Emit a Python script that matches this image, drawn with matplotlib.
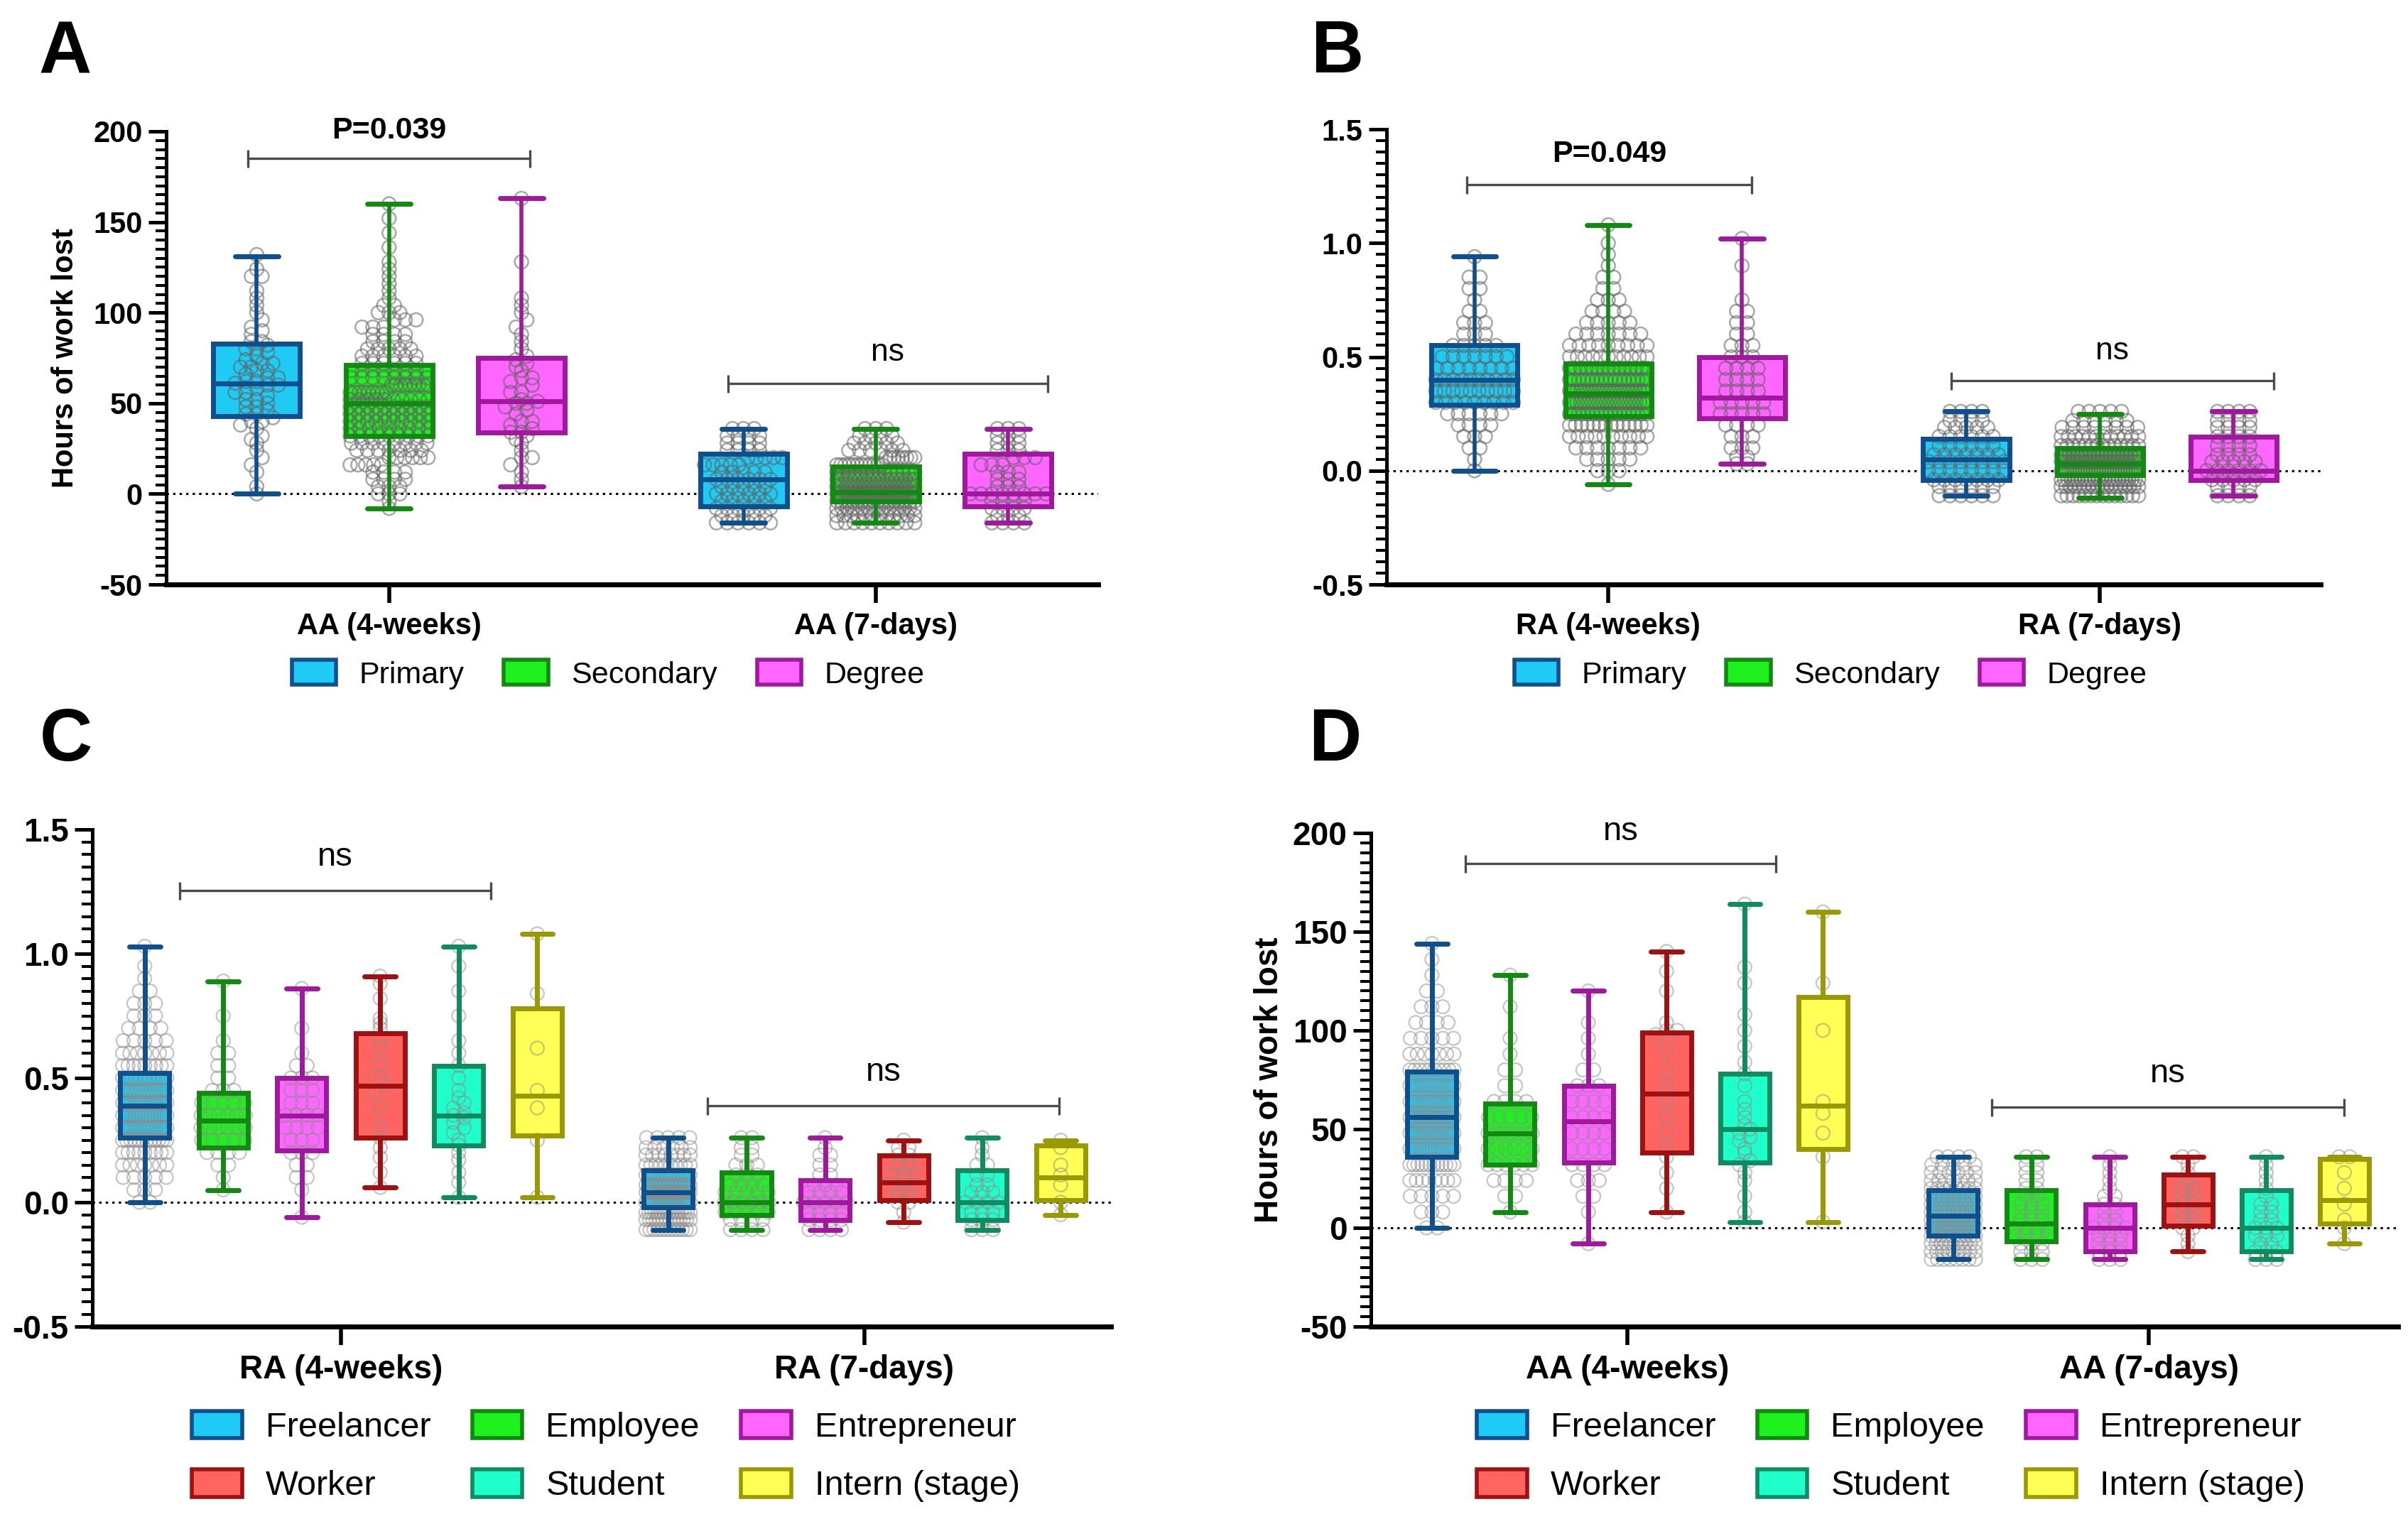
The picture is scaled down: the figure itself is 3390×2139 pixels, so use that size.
import numpy as np
import matplotlib
matplotlib.use("Agg")
import matplotlib.pyplot as plt
from matplotlib.patches import Patch
from matplotlib.ticker import MultipleLocator

plt.rcParams['font.family'] = ['Liberation Sans', 'DejaVu Sans']
plt.rcParams['axes.unicode_minus'] = False

W, H, DPI = 3391, 2139, 100

# ------------------------------------------------------------------ data
edu_groups = ["Primary", "Secondary", "Degree"]
job_groups = ["Freelancer", "Employee", "Entrepreneur", "Worker", "Student", "Intern (stage)"]
AA_periods = ["AA (4-weeks)", "AA (7-days)"]
RA_periods = ["RA (4-weeks)", "RA (7-days)"]

# box summaries: (min, Q1, median, Q3, max)
A_4w_box = [(0, 43, 61, 83, 131), (-8, 32, 50, 71, 160), (4, 34, 51, 75, 163)]
A_7d_box = [(-16, -7, 8, 22, 36), (-16, -4, 1, 15, 36), (-16, -7, 0, 22, 36)]
B_4w_box = [(0, .29, .40, .55, .94), (-.06, .24, .34, .47, 1.08), (.03, .23, .32, .50, 1.02)]
B_7d_box = [(-.11, -.04, .05, .14, .26), (-.12, -.02, .03, .10, .25), (-.11, -.04, 0.0, .15, .26)]
C_4w_box = [(0, .26, .39, .52, 1.03), (.05, .22, .33, .44, .89), (-.06, .21, .35, .50, .86),
            (.06, .26, .47, .68, .91), (.02, .23, .35, .55, 1.03), (.02, .27, .43, .78, 1.08)]
C_7d_box = [(-.11, -.02, .04, .13, .26), (-.11, -.05, 0.0, .12, .26), (-.11, -.07, 0.0, .09, .26),
            (-.08, .01, .08, .19, .25), (-.11, -.07, 0.0, .13, .26), (-.05, .01, .10, .23, .25)]
D_4w_box = [(0, 36, 56, 79, 144), (8, 32, 48, 63, 128), (-8, 33, 54, 72, 120),
            (8, 38, 68, 99, 140), (3, 33, 50, 78, 164), (3, 40, 62, 117, 160)]
D_7d_box = [(-16, -4, 6, 19, 36), (-16, -7, 2, 19, 36), (-16, -12, 0, 12, 36),
            (-12, 1, 12, 27, 36), (-16, -12, 0, 19, 36), (-8, 2, 14, 35, 36)]

# individual observations (value levels and how many points sit at each)
AA7_levels = [-16, -12, -8, -4, 0, 4, 8, 12, 16, 20, 24, 28, 32, 36]
RA7_levels = [-0.11, -0.07, -0.04, 0.0, 0.04, 0.07, 0.11, 0.15, 0.19, 0.22, 0.26]

A_4w_primary = [0, 4, 12, 16, 20, 24, 28, 30, 32, 36, 38, 40, 40, 42, 44, 44, 46, 48, 48, 50,
                52, 52, 54, 56, 56, 58, 60, 60, 61, 62, 62, 64, 64, 66, 68, 68, 70, 70, 72, 72,
                74, 76, 78, 80, 80, 82, 84, 84, 88, 90, 92, 96, 100, 104, 108, 112, 120, 120, 124, 132]
A_4w_secondary_lvls = [-8, -4, 0, 4, 8, 12, 16, 20, 24, 28, 32, 36, 40, 44, 48, 52, 56, 60, 64, 68,
                       72, 76, 80, 84, 88, 92, 96, 100, 104, 108, 112, 116, 120, 124, 128, 136, 144, 152, 160]
A_4w_secondary_cnts = [1, 1, 3, 3, 4, 4, 5, 6, 7, 8, 9, 9, 10, 10, 10, 10, 9, 9, 8, 8,
                       6, 6, 5, 4, 4, 3, 3, 3, 2, 1, 1, 1, 1, 1, 1, 1, 1, 1, 1]
A_4w_degree = [4, 8, 12, 16, 20, 20, 24, 28, 30, 32, 34, 34, 36, 38, 40, 40, 44, 46, 48, 50, 50, 51,
               52, 56, 56, 60, 62, 64, 64, 68, 70, 72, 74, 76, 80, 84, 88, 92, 96, 100, 104, 108, 128, 163]
A_7d_primary_cnts = [6, 5, 6, 5, 6, 5, 6, 5, 5, 5, 4, 4, 4, 3]
A_7d_secondary_cnts = [10, 12, 16, 20, 32, 18, 18, 14, 12, 8, 6, 5, 4, 3]
A_7d_degree_cnts = [4, 3, 4, 4, 8, 3, 3, 3, 3, 3, 3, 3, 3, 3]

B_4w_primary_lvls = [0.00, 0.05, 0.10, 0.15, 0.20, 0.25, 0.30, 0.35, 0.40, 0.45, 0.50, 0.55, 0.60,
                     0.65, 0.70, 0.75, 0.80, 0.85, 0.94]
B_4w_primary_cnts = [1, 1, 2, 3, 4, 6, 9, 10, 10, 8, 7, 5, 3, 3, 2, 1, 2, 2, 1]
B_4w_secondary_lvls = [-0.06, 0.00, 0.05, 0.10, 0.15, 0.20, 0.25, 0.30, 0.35, 0.40, 0.45, 0.50, 0.55,
                       0.60, 0.65, 0.70, 0.75, 0.80, 0.85, 0.90, 0.95, 1.00, 1.08]
B_4w_secondary_cnts = [1, 3, 5, 7, 10, 14, 18, 22, 22, 18, 15, 11, 9, 7, 5, 4, 3, 2, 2, 1, 1, 1, 1]
B_4w_degree_lvls = [0.03, 0.06, 0.10, 0.15, 0.20, 0.25, 0.30, 0.35, 0.40, 0.45, 0.50, 0.55, 0.60,
                    0.65, 0.70, 0.75, 0.90, 1.02]
B_4w_degree_cnts = [2, 2, 3, 3, 4, 5, 5, 4, 4, 4, 3, 3, 2, 2, 2, 1, 1, 1]
B_7d_primary_cnts = [6, 6, 7, 8, 8, 7, 6, 6, 5, 4, 4]
B_7d_secondary_cnts = [14, 18, 24, 30, 26, 20, 14, 12, 8, 6, 5]
B_7d_degree_cnts = [4, 4, 5, 6, 5, 4, 4, 4, 4, 4, 4]

C_4w_freelancer_lvls = [0.00, 0.05, 0.10, 0.15, 0.20, 0.25, 0.30, 0.35, 0.40, 0.45, 0.50, 0.55, 0.60,
                        0.65, 0.70, 0.75, 0.80, 0.85, 0.90, 0.95, 1.03]
C_4w_freelancer_cnts = [2, 3, 5, 7, 9, 12, 14, 15, 15, 13, 11, 9, 7, 5, 4, 3, 3, 2, 1, 1, 1]
C_4w_employee_lvls = [0.05, 0.10, 0.15, 0.20, 0.25, 0.30, 0.35, 0.40, 0.45, 0.50, 0.55, 0.60, 0.65, 0.75, 0.89]
C_4w_employee_cnts = [1, 1, 2, 4, 5, 6, 6, 5, 3, 2, 2, 2, 1, 1, 1]
C_4w_entrepreneur_lvls = [-0.06, 0.05, 0.10, 0.15, 0.20, 0.25, 0.30, 0.35, 0.40, 0.45, 0.50, 0.55, 0.60, 0.70, 0.86]
C_4w_entrepreneur_cnts = [1, 1, 2, 2, 3, 3, 4, 4, 3, 3, 3, 2, 1, 1, 1]
C_4w_worker = [0.06, 0.12, 0.18, 0.22, 0.26, 0.30, 0.38, 0.44, 0.47, 0.50, 0.55, 0.62, 0.66, 0.70,
               0.72, 0.74, 0.82, 0.88, 0.91]
C_4w_student = [0.02, 0.08, 0.12, 0.17, 0.20, 0.23, 0.25, 0.28, 0.30, 0.32, 0.34, 0.35, 0.36, 0.38,
                0.40, 0.42, 0.45, 0.50, 0.55, 0.60, 0.65, 0.75, 0.85, 0.95, 1.03]
C_4w_intern = [0.02, 0.25, 0.38, 0.45, 0.62, 0.84, 1.08]
C_7d_freelancer_cnts = [12, 14, 16, 20, 18, 15, 12, 10, 8, 6, 5]
C_7d_employee_cnts = [4, 4, 5, 6, 5, 4, 3, 3, 2, 2, 2]
C_7d_entrepreneur_cnts = [4, 4, 4, 5, 4, 3, 2, 2, 2, 1, 1]
C_7d_worker = [-0.08, -0.04, 0.0, 0.0, 0.04, 0.04, 0.07, 0.07, 0.07, 0.11, 0.11, 0.11, 0.15, 0.15,
               0.19, 0.19, 0.22, 0.22, 0.25]
C_7d_student_cnts = [3, 3, 3, 4, 3, 2, 2, 2, 1, 1, 1]
C_7d_intern = [-0.05, 0.0, 0.07, 0.11, 0.15, 0.22, 0.25]

D_4w_freelancer_lvls = [0, 8, 16, 24, 32, 40, 48, 56, 64, 72, 80, 88, 96, 104, 112, 120, 128, 136, 144]
D_4w_freelancer_cnts = [2, 3, 5, 8, 12, 15, 17, 17, 15, 13, 10, 7, 5, 4, 3, 2, 1, 1, 1]
D_4w_employee_lvls = [8, 16, 24, 32, 40, 48, 56, 64, 72, 80, 88, 96, 112, 128]
D_4w_employee_cnts = [1, 2, 4, 6, 6, 7, 5, 4, 2, 2, 1, 1, 1, 1]
D_4w_entrepreneur_lvls = [-8, 8, 16, 24, 32, 40, 48, 56, 64, 72, 80, 88, 96, 104, 120]
D_4w_entrepreneur_cnts = [1, 1, 2, 3, 4, 4, 4, 4, 4, 3, 2, 1, 1, 1, 1]
D_4w_worker = [8, 20, 28, 36, 40, 48, 56, 64, 68, 72, 80, 90, 98, 100, 100, 104, 120, 130, 140]
D_4w_student = [3, 8, 16, 24, 28, 32, 34, 38, 40, 44, 46, 48, 50, 52, 56, 60, 64, 72, 78, 84, 92,
                100, 108, 124, 132, 164]
D_4w_intern = [3, 36, 48, 58, 64, 100, 124, 160]
D_7d_freelancer_cnts = [8, 9, 10, 11, 13, 12, 11, 10, 9, 8, 7, 6, 5, 4]
D_7d_employee_cnts = [3, 3, 3, 4, 4, 3, 3, 3, 2, 2, 2, 2, 2, 2]
D_7d_entrepreneur_cnts = [3, 3, 3, 3, 4, 2, 2, 2, 2, 1, 1, 1, 1, 1]
D_7d_worker = [-12, -8, -4, 0, 0, 4, 4, 8, 8, 12, 12, 16, 16, 20, 20, 24, 28, 32, 36, 36]
D_7d_student_cnts = [3, 3, 2, 3, 3, 2, 2, 2, 1, 1, 1, 1, 1, 1]
D_7d_intern = [-8, 0, 4, 12, 20, 28, 36, 36]

# colours
grp_fill = ["#1FCBF4", "#1EF21E", "#FF66FF", "#FF6461", "#1EFFCC", "#FFFF55"]
grp_edge = ["#0E4F8E", "#128A12", "#A0189E", "#A01010", "#0E8C60", "#999900"]


def rep(levels, counts):
    return np.repeat(np.asarray(levels, float), counts)


A_4w_pts = [np.asarray(A_4w_primary, float), rep(A_4w_secondary_lvls, A_4w_secondary_cnts),
            np.asarray(A_4w_degree, float)]
A_7d_pts = [rep(AA7_levels, A_7d_primary_cnts), rep(AA7_levels, A_7d_secondary_cnts),
            rep(AA7_levels, A_7d_degree_cnts)]
B_4w_pts = [rep(B_4w_primary_lvls, B_4w_primary_cnts), rep(B_4w_secondary_lvls, B_4w_secondary_cnts),
            rep(B_4w_degree_lvls, B_4w_degree_cnts)]
B_7d_pts = [rep(RA7_levels, B_7d_primary_cnts), rep(RA7_levels, B_7d_secondary_cnts),
            rep(RA7_levels, B_7d_degree_cnts)]
C_4w_pts = [rep(C_4w_freelancer_lvls, C_4w_freelancer_cnts), rep(C_4w_employee_lvls, C_4w_employee_cnts),
            rep(C_4w_entrepreneur_lvls, C_4w_entrepreneur_cnts), np.asarray(C_4w_worker, float),
            np.asarray(C_4w_student, float), np.asarray(C_4w_intern, float)]
C_7d_pts = [rep(RA7_levels, C_7d_freelancer_cnts), rep(RA7_levels, C_7d_employee_cnts),
            rep(RA7_levels, C_7d_entrepreneur_cnts), np.asarray(C_7d_worker, float),
            rep(RA7_levels, C_7d_student_cnts), np.asarray(C_7d_intern, float)]
D_4w_pts = [rep(D_4w_freelancer_lvls, D_4w_freelancer_cnts), rep(D_4w_employee_lvls, D_4w_employee_cnts),
            rep(D_4w_entrepreneur_lvls, D_4w_entrepreneur_cnts), np.asarray(D_4w_worker, float),
            np.asarray(D_4w_student, float), np.asarray(D_4w_intern, float)]
D_7d_pts = [rep(AA7_levels, D_7d_freelancer_cnts), rep(AA7_levels, D_7d_employee_cnts),
            rep(AA7_levels, D_7d_entrepreneur_cnts), np.asarray(D_7d_worker, float),
            rep(AA7_levels, D_7d_student_cnts), np.asarray(D_7d_intern, float)]


# ------------------------------------------------------------------ helpers
def px_rect(l, t, r, b):
    return [l / W, 1 - b / H, (r - l) / W, (b - t) / H]


def swarm_x(center, vals, xd, yd, halfmax):
    vals = np.asarray(vals, float)
    xs = np.empty_like(vals)
    rows = np.round(vals / (0.6 * yd)).astype(int)
    for r in np.unique(rows):
        idx = np.where(rows == r)[0]
        n = len(idx)
        sp = xd * 0.8
        if n > 1 and (n - 1) / 2 * sp > halfmax:
            sp = 2 * halfmax / (n - 1)
        xs[idx] = center + (np.arange(n) - (n - 1) / 2) * sp
    return xs


def draw_panel(ax, rect, xlim, ylim, box_sets, pt_sets, step, width, capfrac,
               lw_box, lw_wh, pt_col, mk_px, pt_lw):
    w_px = rect[2] - rect[0]
    h_px = rect[3] - rect[1]
    xd = mk_px * (xlim[1] - xlim[0]) / w_px
    yd = mk_px * (ylim[1] - ylim[0]) / h_px
    s = (mk_px * 72 / DPI) ** 2
    for pi, (boxes, pts) in enumerate(zip(box_sets, pt_sets)):
        n = len(boxes)
        pos = pi + (np.arange(n) - (n - 1) / 2) * step
        stats = [dict(whislo=b[0], q1=b[1], med=b[2], q3=b[3], whishi=b[4], fliers=[]) for b in boxes]
        bp = ax.bxp(stats, positions=pos, widths=width, capwidths=width * capfrac,
                    patch_artist=True, showfliers=False, manage_ticks=False, zorder=2)
        for k in range(n):
            bp['boxes'][k].set(facecolor=grp_fill[k], edgecolor='none', linewidth=0)
        for key in ('whiskers', 'caps', 'medians'):
            for ln in bp[key]:
                ln.set_visible(False)
        for k, v in enumerate(pts):
            xs = swarm_x(pos[k], v, xd, yd, width * 0.45)
            ax.scatter(xs, v, s=s, facecolors='none', edgecolors=[pt_col], linewidths=pt_lw, zorder=3)
        bp2 = ax.bxp(stats, positions=pos, widths=width, capwidths=width * capfrac,
                     patch_artist=True, showfliers=False, manage_ticks=False, zorder=4)
        for k in range(n):
            e = grp_edge[k]
            bp2['boxes'][k].set(facecolor='none', edgecolor=e, linewidth=lw_box)
            bp2['medians'][k].set(color=e, linewidth=lw_box, solid_capstyle='butt')
            for j in (2 * k, 2 * k + 1):
                bp2['whiskers'][j].set(color=e, linewidth=lw_wh, solid_capstyle='butt')
                bp2['caps'][j].set(color=e, linewidth=lw_box, solid_capstyle='round')


def style_axes(ax, xlim, ylim, yticks, ylabels, minor, periods, fs, ylabel=None, ylabel_x=None):
    ax.set_xlim(xlim)
    ax.set_ylim(ylim)
    for sp in ('top', 'right'):
        ax.spines[sp].set_visible(False)
    ax.spines['left'].set_linewidth(3.6)
    ax.spines['bottom'].set_linewidth(5)
    ax.set_yticks(yticks)
    ax.set_yticklabels(ylabels)
    ax.yaxis.set_minor_locator(MultipleLocator(minor))
    ax.tick_params(axis='y', which='major', length=18, width=3.6, pad=6, labelsize=fs)
    ax.tick_params(axis='y', which='minor', length=10.8, width=2.9)
    ax.set_xticks([0, 1])
    ax.set_xticklabels(periods)
    ax.tick_params(axis='x', which='major', length=19, width=4, pad=9, labelsize=fs)
    ax.tick_params(axis='x', which='minor', bottom=False)
    for t in ax.get_xticklabels() + ax.get_yticklabels():
        t.set_fontweight('bold')
    ax.axhline(0, color='black', lw=2.2, linestyle=(0, (1.1, 1.9)), zorder=1)
    if ylabel:
        ax.set_ylabel(ylabel, fontsize=fs, fontweight='bold')
        ax.yaxis.set_label_coords(ylabel_x, 0.5)


def sig(ax, x0, x1, yb, yt, txt, weight, fs):
    ax.plot([x0, x1], [yb, yb], color='#4a4a4a', lw=2.4, solid_capstyle='butt', zorder=5, clip_on=False)
    ax.plot([x0, x1], [yb, yb], ls='none', marker='|', ms=18, mew=2.4, color='#4a4a4a',
            zorder=5, clip_on=False)
    ax.text((x0 + x1) / 2, yt, txt, ha='center', va='center', fontsize=fs,
            fontweight=weight, clip_on=False)


# ------------------------------------------------------------------ figure
fig = plt.figure(figsize=(W / DPI, H / DPI), dpi=DPI)

pt_ab = (0.38, 0.38, 0.38, 0.55)
pt_cd = (0.55, 0.55, 0.55, 0.5)

AA_ticks = [-50, 0, 50, 100, 150, 200]
AA_labels = ["-50", "0", "50", "100", "150", "200"]
RA_ticks = [-0.5, 0.0, 0.5, 1.0, 1.5]
RA_labels = ["-0.5", "0.0", "0.5", "1.0", "1.5"]

# Panel A
rA = (234, 185, 1546, 823)
axA = fig.add_axes(px_rect(*rA))
xlA, ylA = (-0.458, 1.457), (-50, 200)
draw_panel(axA, rA, xlA, ylA, [A_4w_box, A_7d_box], [A_4w_pts, A_7d_pts], 0.272, 0.178, 0.5,
           5, 4, pt_ab, 19, 1.8)
style_axes(axA, xlA, ylA, AA_ticks, AA_labels, 5, AA_periods, 30, "Hours of work lost", -0.093)
sig(axA, -0.29, 0.29, 185, 200.5, "P=0.039", 'bold', 31)
sig(axA, 0.696, 1.353, 61, 78, "ns", 'normal', 32)

# Panel B
rB = (1952, 182, 3267, 823)
axB = fig.add_axes(px_rect(*rB))
xlB, ylB = (-0.451, 1.449), (-0.5, 1.5)
draw_panel(axB, rB, xlB, ylB, [B_4w_box, B_7d_box], [B_4w_pts, B_7d_pts], 0.272, 0.175, 0.5,
           5, 4, pt_ab, 19, 1.8)
style_axes(axB, xlB, ylB, RA_ticks, RA_labels, 0.05, RA_periods, 30)
sig(axB, -0.288, 0.292, 1.257, 1.39, "P=0.049", 'bold', 31)
sig(axB, 0.698, 1.353, 0.396, 0.526, "ns", 'normal', 32)

# Panel C
rC = (130, 1168, 1564, 1868)
axC = fig.add_axes(px_rect(*rC))
xlC, ylC = (-0.475, 1.471), (-0.5, 1.5)
draw_panel(axC, rC, xlC, ylC, [C_4w_box, C_7d_box], [C_4w_pts, C_7d_pts], 0.150, 0.094, 0.63,
           5, 5, pt_cd, 19, 1.6)
style_axes(axC, xlC, ylC, RA_ticks, RA_labels, 0.05, RA_periods, 33)
sig(axC, -0.308, 0.286, 1.254, 1.39, "ns", 'normal', 34)
sig(axC, 0.700, 1.372, 0.389, 0.523, "ns", 'normal', 34)

# Panel D
rD = (1930, 1173, 3376, 1868)
axD = fig.add_axes(px_rect(*rD))
xlD, ylD = (-0.492, 1.478), (-50, 200)
draw_panel(axD, rD, xlD, ylD, [D_4w_box, D_7d_box], [D_4w_pts, D_7d_pts], 0.150, 0.094, 0.63,
           5, 5, pt_cd, 19, 1.6)
style_axes(axD, xlD, ylD, AA_ticks, AA_labels, 5, AA_periods, 33, "Hours of work lost", -0.084)
sig(axD, -0.311, 0.285, 184.5, 200.7, "ns", 'normal', 34)
sig(axD, 0.699, 1.375, 61, 78, "ns", 'normal', 34)

# legends
edu_handles = [Patch(facecolor=grp_fill[k], edgecolor=grp_edge[k], linewidth=4) for k in range(3)]
for cx in (856, 2577):
    fig.legend(edu_handles, edu_groups, loc='center', bbox_to_anchor=(cx / W, 1 - 950 / H),
               ncol=3, frameon=False, fontsize=31, handlelength=1.45, handleheight=0.85,
               handletextpad=0.75, columnspacing=1.3, borderpad=0, borderaxespad=0)

order = [0, 3, 1, 4, 2, 5]
job_handles = [Patch(facecolor=grp_fill[k], edgecolor=grp_edge[k], linewidth=4) for k in order]
job_labels = [job_groups[k] for k in order]
for cx in (853, 2662):
    fig.legend(job_handles, job_labels, loc='center', bbox_to_anchor=(cx / W, 1 - 2051 / H),
               ncol=3, frameon=False, fontsize=35, handlelength=1.45, handleheight=0.85,
               handletextpad=0.68, columnspacing=1.2, labelspacing=0.75, borderpad=0, borderaxespad=0)

# panel letters
for letter, x, yb in (("A", 54, 102), ("B", 1845, 102), ("C", 56, 1071), ("D", 1842, 1071)):
    fig.text(x / W, 1 - yb / H, letter, fontsize=74, fontweight='bold', ha='left', va='baseline')

fig.savefig("out.png", dpi=DPI)
